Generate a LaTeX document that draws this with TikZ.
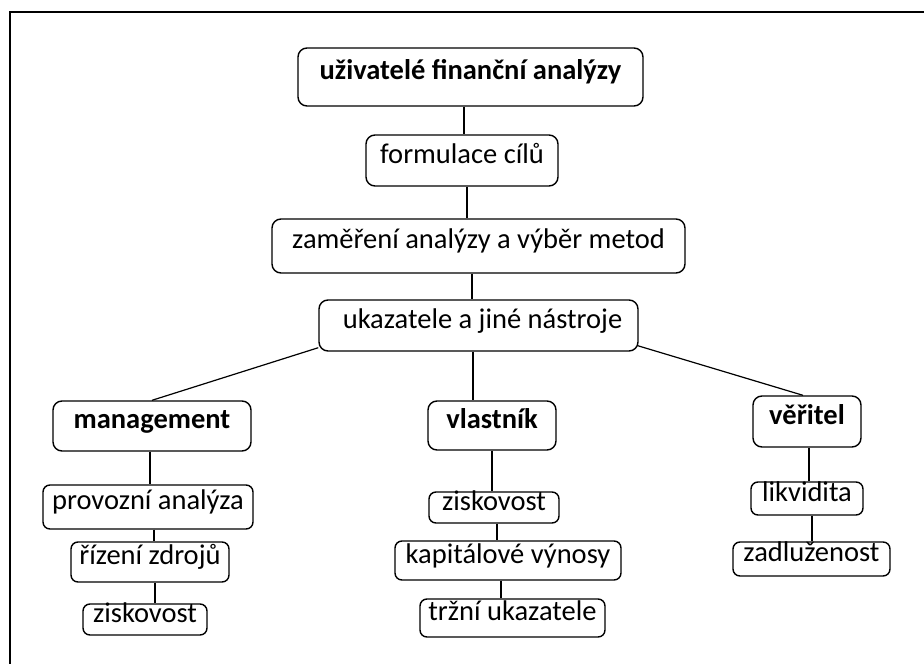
\documentclass[tikz,border=0pt]{standalone}
\usepackage{fontspec}
\setmainfont{Carlito}
\begin{document}
\begin{tikzpicture}[x=1pt,y=-1pt,
  box/.style={draw=black, line width=1.4pt, rounded corners=9pt, inner sep=0pt,
    text height=0.7em, text depth=0.2em, font=\fontsize{28.5}{30}\selectfont, align=center},
  sbox/.style={box, rounded corners=7pt},
  bbox/.style={box, font=\fontsize{28.5}{30}\selectfont\bfseries},
  conn/.style={draw=black, line width=1.2pt}]
\useasboundingbox (0,0) rectangle (924,664);
\fill[white] (0,0) rectangle (924,664);
% frame (top and left edges visible)
\draw[line width=1.6pt] (10,664) -- (10,12) -- (924,12);
% nodes
\node[bbox, minimum width=345pt, minimum height=58pt] (title) at (470.5,77) {uživatelé finanční analýzy};
\node[box, minimum width=192pt, minimum height=51pt] (form) at (462,160.5) {formulace cílů};
\node[box, minimum width=413pt, minimum height=54pt] (zam) at (478.5,246) {zaměření analýzy a výběr metod};
\node[box, minimum width=319pt, minimum height=51pt] (uk) at (478.5,325.5) {\hspace*{8pt}ukazatele a jiné nástroje};
\node[bbox, minimum width=198pt, minimum height=50pt] (mgmt) at (152,426) {management};
\node[bbox, minimum width=128pt, minimum height=49pt] (vl) at (492,425.5) {vlastník};
\node[bbox, minimum width=108pt, minimum height=51pt] (ver) at (807,421.5) {věřitel};
\node[sbox, minimum width=210pt, minimum height=44pt] (prov) at (148,507) {provozní analýza};
\node[sbox, minimum width=158pt, minimum height=40pt] (riz) at (150,562) {řízení zdrojů};
\node[sbox, minimum width=124pt, minimum height=31pt] (zisk1) at (145,619.5) {ziskovost};
\node[sbox, minimum width=130pt, minimum height=31pt] (zisk2) at (494,507.5) {ziskovost};
\node[sbox, minimum width=226pt, minimum height=39pt] (kap) at (508,560.5) {kapitálové výnosy};
\node[sbox, minimum width=185pt, minimum height=38pt] (trz) at (512.5,618) {tržní ukazatele};
\node[sbox, minimum width=112pt, minimum height=33pt] (lik) at (807,498.5) {likvidita};
\node[sbox, minimum width=157pt, minimum height=34pt] (zad) at (811.5,559) {zadluženost};
% connectors
\draw[conn] ([xshift=-6.5pt]title.south) -- ([xshift=2pt]form.north);
\draw[conn] ([xshift=5pt]form.south) -- ([xshift=-11.5pt]zam.north);
\draw[conn] ([xshift=-6.5pt]zam.south) -- ([xshift=-6.5pt]uk.north);
\draw[conn] ([yshift=4pt]uk.south west) -- (mgmt.north);
\draw[conn] ([xshift=-5.5pt]uk.south) -- ([xshift=-19pt]vl.north);
\draw[conn] ([xshift=-1pt,yshift=6pt]uk.south east) -- ([xshift=-4pt]ver.north);
\draw[conn] ([xshift=-2pt]mgmt.south) -- ([xshift=2pt]prov.north);
\draw[conn] ([xshift=6pt]prov.south) -- ([xshift=4pt]riz.north);
\draw[conn] ([xshift=5pt]riz.south) -- ([xshift=10pt]zisk1.north);
\draw[conn] (vl.south) -- ([xshift=-2pt]zisk2.north);
\draw[conn] ([xshift=3pt]zisk2.south) -- ([xshift=-11pt]kap.north);
\draw[conn] ([xshift=-7pt]kap.south) -- ([xshift=-11.5pt]trz.north);
\draw[conn] ([xshift=2pt]ver.south) -- ([xshift=2pt]lik.north);
\draw[conn] ([xshift=5pt]lik.south) -- ([xshift=0.5pt]zad.north);
\end{tikzpicture}
\end{document}
